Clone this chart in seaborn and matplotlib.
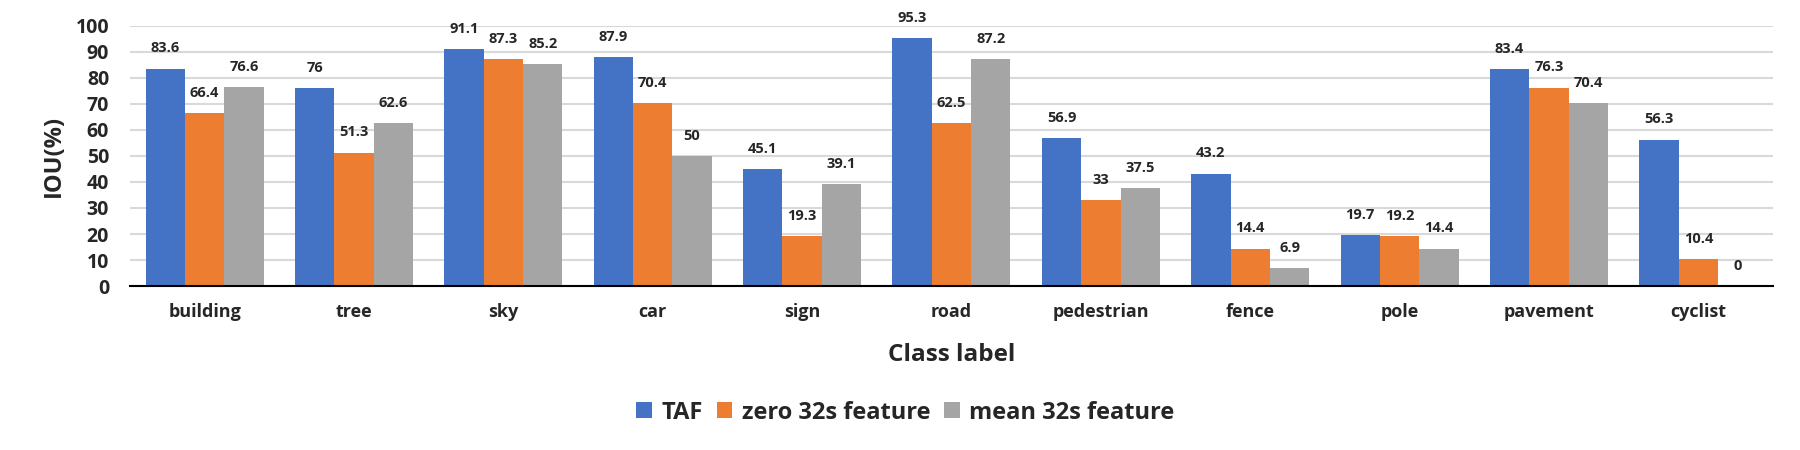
import pandas as pd
import matplotlib.pyplot as plt
import seaborn as sns

classes = ['building', 'tree', 'sky', 'car', 'sign', 'road', 'pedestrian',
           'fence', 'pole', 'pavement', 'cyclist']
taf = [83.6, 76, 91.1, 87.9, 45.1, 95.3, 56.9, 43.2, 19.7, 83.4, 56.3]
zero_32s = [66.4, 51.3, 87.3, 70.4, 19.3, 62.5, 33, 14.4, 19.2, 76.3, 10.4]
mean_32s = [76.6, 62.6, 85.2, 50, 39.1, 87.2, 37.5, 6.9, 14.4, 70.4, 0]
series = ['TAF', 'zero 32s feature', 'mean 32s feature']

rows = []
for name, vals in zip(series, [taf, zero_32s, mean_32s]):
    for c, v in zip(classes, vals):
        rows.append({'cls': c, 'method': name, 'iou': v})
df = pd.DataFrame(rows)

sns.set_style('white')
plt.rcParams['font.family'] = ['Open Sans', 'DejaVu Sans']
plt.rcParams['font.weight'] = 'bold'

fig = plt.figure(figsize=(18, 4.5), dpi=100)
ax = fig.add_axes([0.0722, 0.3644, 0.9128, 0.578])
colors = ['#4472C4', '#ED7D31', '#A5A5A5']
sns.barplot(data=df, x='cls', y='iou', hue='method', palette=colors,
            width=0.79, saturation=1, linewidth=0, ax=ax, legend=True)

for cont in ax.containers:
    ax.bar_label(cont, labels=[f'{v:g}' for v in cont.datavalues],
                 padding=9.5, fontsize=10.5, fontweight='bold')

ax.set_ylim(0, 100)
ax.set_yticks(range(0, 101, 10))
ax.set_xlim(-0.5, len(classes) - 0.5)
ax.yaxis.grid(True, color='#d9d9d9', linewidth=1.5)
ax.set_axisbelow(True)
for s in ['top', 'right', 'left']:
    ax.spines[s].set_visible(False)
ax.spines['bottom'].set_color('black')
ax.spines['bottom'].set_linewidth(1.5)
ax.tick_params(axis='y', labelsize=14, length=0, pad=15)
ax.tick_params(axis='x', labelsize=13, length=0, pad=12)
for t in ax.get_xticklabels() + ax.get_yticklabels():
    t.set_fontweight('bold')
ax.set_ylabel('IOU(%)', fontsize=17, fontweight='bold', labelpad=7)
ax.set_xlabel('Class label', fontsize=17.5, fontweight='bold', labelpad=16)

handles, labels = ax.get_legend_handles_labels()
ax.get_legend().remove()
fig.legend(handles, labels, loc='center', bbox_to_anchor=(0.503, 0.083),
           ncol=3, frameon=False, prop={'size': 17, 'weight': 'bold'},
           handlelength=0.65, handleheight=0.65, handletextpad=0.4,
           columnspacing=0.6)

fig.savefig('out.png', dpi=100)
